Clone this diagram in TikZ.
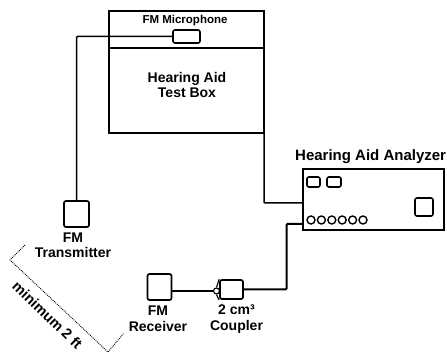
\documentclass[tikz,border=0pt]{standalone}
\usepackage{fontspec}
\setmainfont{Liberation Sans}
\usetikzlibrary{calc}
\tikzset{
  unit/.style={draw,line width=1.7pt,rounded corners=2pt,inner sep=0pt},
  lamp/.style={draw,line width=1.6pt,rounded corners=2pt,inner sep=0pt},
  knob/.style={draw,circle,line width=1.4pt,minimum size=8pt,inner sep=0pt},
  wire/.style={line width=1.5pt,rounded corners=1pt},
  label/.style={font=\bfseries\fontsize{14}{15.5}\selectfont,align=center,inner sep=0pt},
  measure/.style={densely dotted,line width=0.9pt},
}
\begin{document}
\begin{tikzpicture}[x=1pt,y=-1pt]
  \useasboundingbox (0,0) rectangle (447,352);
  % test box with its microphone strip
  \draw[line width=1.5pt] (109,11) rectangle (264,133);
  \draw[line width=1.5pt] (109,48) -- (264,48);
  \node[label,font=\bfseries\fontsize{11.5}{13}\selectfont] (miclabel) at (185,21) {FM Microphone};
  \node[label] (boxlabel) at (187,85) {Hearing Aid\\Test Box};
  \node[lamp,minimum width=27pt,minimum height=13pt] (mic) at (186.5,36.5) {};

  \node[unit,minimum width=25pt,minimum height=26pt] (transmitter) at (76.5,214) {};
  \node[label] (transmitterlabel) at (73,245.5) {FM\\Transmitter};
  \draw[wire] (mic.west) -| (transmitter.north);

  % analyzer
  \node[draw,line width=1.6pt,anchor=north west,minimum width=141pt,minimum height=61pt,inner sep=0pt] (analyzer) at (302,168) {};
  \node[label,anchor=west,font=\bfseries\fontsize{15}{17}\selectfont] (analyzerlabel) at (295,157) {Hearing Aid Analyzer};
  \node[lamp,minimum width=13pt,minimum height=10pt] (lampa) at (313.5,182) {};
  \node[lamp,minimum width=14pt,minimum height=10pt] (lampb) at (334,182) {};
  \node[lamp,minimum width=18pt,minimum height=18pt] (meter) at (424,207) {};
  \foreach \i/\x in {1/311,2/321.4,3/331.8,4/342.2,5/352.6,6/363} {
    \node[knob] (knob\i) at (\x,220) {};
  }
  \coordinate (boxout) at (264,133);
  \coordinate (analyzerin) at (analyzer.west |- 0,203);
  \draw[wire] (boxout) |- (analyzerin);

  % receiver and coupler
  \node[unit,minimum width=24pt,minimum height=26pt] (receiver) at (159.5,287) {};
  \node[label] (receiverlabel) at (158,319) {FM\\Receiver};
  \node[unit,minimum width=23pt,minimum height=19pt] (coupler) at (231.5,289.5) {};
  \node[draw,circle,line width=1.1pt,minimum size=6pt,inner sep=0pt] (nose) at (216.5,291) {};
  \node[label] (couplerlabel) at (236.5,319) {2 cm³\\Coupler};
  \coordinate (analyzerout) at (analyzer.west |- 0,224);
  \draw[wire] (receiver.east |- nose.west) -- (nose.west);
  \draw[line width=1.1pt] (nose.north) -- (coupler.north west) (nose.south) -- (coupler.south west);
  \draw[wire,line width=2pt] (coupler.east) -| (286.5,224) -- (analyzerout);

  % two foot clearance
  \coordinate (cornera) at (25,245);
  \coordinate (cornerb) at (10,260);
  \coordinate (cornerc) at (108,352);
  \coordinate (cornerd) at (124,333);
  \draw[measure] (cornera) -- (cornerb) -- (cornerc) -- (cornerd);
  \node[label,rotate=-44,font=\bfseries\fontsize{14.5}{16}\selectfont] (distance) at (47.5,315) {minimum 2 ft};
\end{tikzpicture}
\end{document}
